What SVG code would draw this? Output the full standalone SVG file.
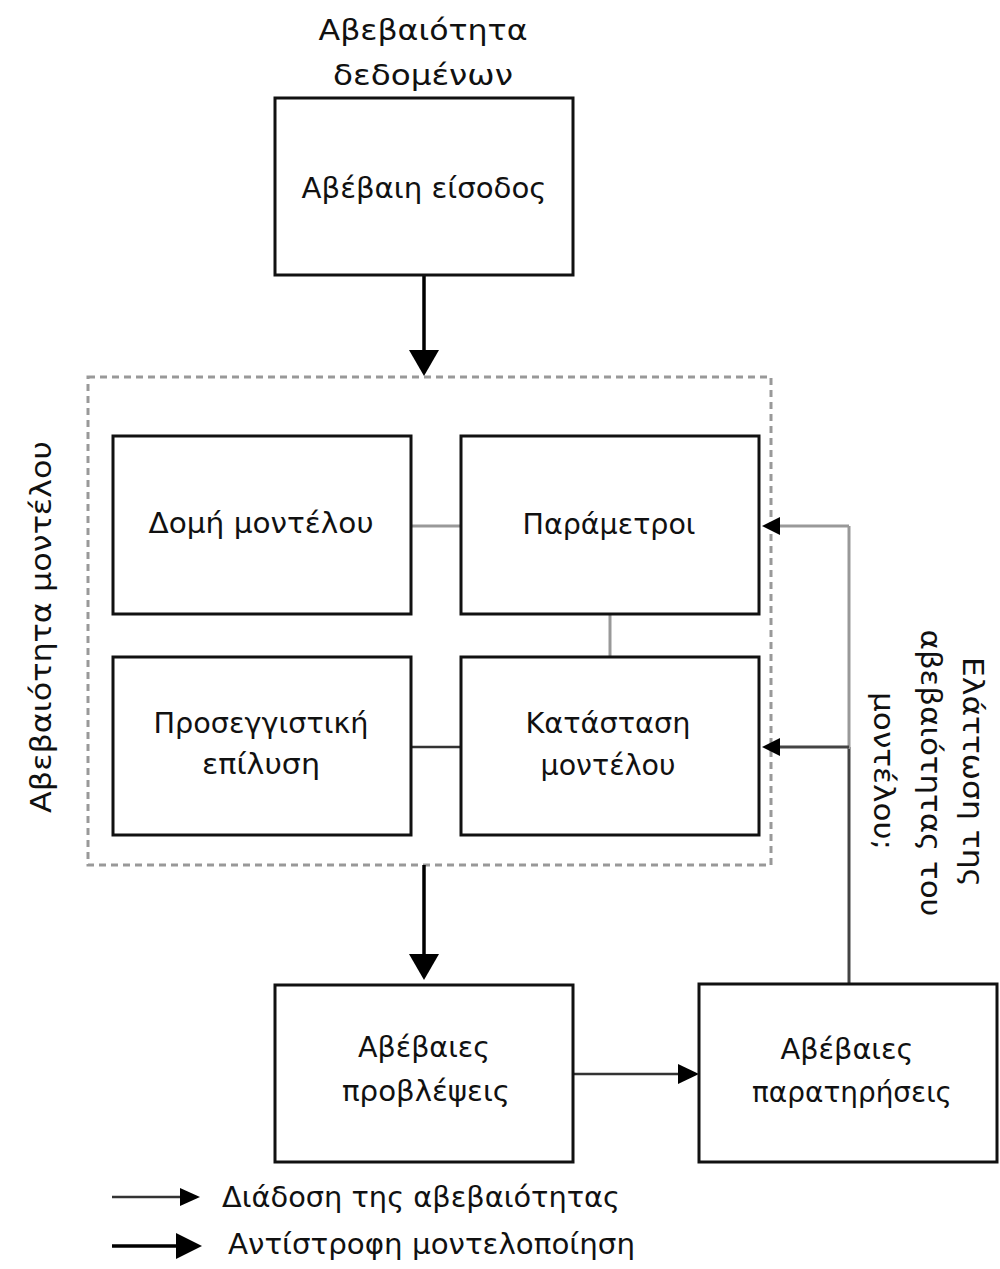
<svg xmlns="http://www.w3.org/2000/svg" width="1000" height="1269" viewBox="0 0 1000 1269">
<defs>
<style>
.box{fill:#fff;stroke:#111;stroke-width:3}
.t{font-family:"DejaVu Sans","Liberation Sans",sans-serif;font-size:29px;fill:#111;text-anchor:middle}
.lt{font-family:"DejaVu Sans","Liberation Sans",sans-serif;font-size:29px;fill:#111}
.thick{stroke:#000;stroke-width:3.5;fill:none}
.thin{stroke:#333;stroke-width:2.5;fill:none}
.grey{stroke:#999;stroke-width:3;fill:none}
.dark{stroke:#444;stroke-width:3;fill:none}
.head{fill:#000}
</style>
</defs>
<rect width="1000" height="1269" fill="#fff"/>

<g id="label-data">
<text class="t" x="423" y="40" font-size="31" textLength="209" lengthAdjust="spacingAndGlyphs">Αβεβαιότητα</text>
<text class="t" x="423" y="85" font-size="31" textLength="180" lengthAdjust="spacingAndGlyphs">δεδομένων</text>
</g>

<g id="model-group">
<rect x="88" y="377" width="683" height="488" fill="none" stroke="#999" stroke-width="3" stroke-dasharray="7,5"/>
<text class="t" transform="translate(51,627) rotate(-90)" font-size="31" textLength="372" lengthAdjust="spacingAndGlyphs">Αβεβαιότητα μοντέλου</text>
</g>

<g id="feedback-label">
<text class="t" transform="translate(963,772) rotate(90)" textLength="230" lengthAdjust="spacingAndGlyphs">Ελάττωση της</text>
<text class="t" transform="translate(921,773) rotate(90)" textLength="287" lengthAdjust="spacingAndGlyphs">αβεβαιότητας του</text>
<text class="t" transform="translate(874,771) rotate(90)" textLength="158" lengthAdjust="spacingAndGlyphs">μοντέλου;</text>
</g>

<g id="connectors">
<line class="thick" x1="424" y1="275" x2="424" y2="352"/>
<polygon class="head" points="409,350 439,350 424,376"/>
<line class="thick" x1="424" y1="865" x2="424" y2="956"/>
<polygon class="head" points="409,954 439,954 424,980"/>
<line class="grey" x1="411" y1="526" x2="461" y2="526"/>
<line class="grey" x1="610" y1="614" x2="610" y2="657"/>
<line class="thin" x1="411" y1="747" x2="461" y2="747"/>
<line class="thin" x1="573" y1="1074" x2="682" y2="1074"/>
<polygon class="head" points="678,1064 678,1084 699,1074"/>
<line class="dark" x1="849" y1="984" x2="849" y2="747"/>
<line class="grey" x1="849" y1="749" x2="849" y2="526"/>
<line class="grey" x1="849" y1="526" x2="776" y2="526"/>
<line class="dark" x1="849" y1="747" x2="776" y2="747"/>
<polygon class="head" points="780,517 780,535 762,526"/>
<polygon class="head" points="780,738 780,756 762,747"/>
</g>

<g id="node-input">
<rect class="box" x="275" y="98" width="298" height="177"/>
<text class="t" x="424" y="198" textLength="245" lengthAdjust="spacingAndGlyphs">Αβέβαιη είσοδος</text>
</g>

<g id="node-structure">
<rect class="box" x="113" y="436" width="298" height="178"/>
<text class="t" x="261" y="533" textLength="225" lengthAdjust="spacingAndGlyphs">Δομή μοντέλου</text>
</g>

<g id="node-parameters">
<rect class="box" x="461" y="436" width="298" height="178"/>
<text class="t" x="609" y="534" textLength="173" lengthAdjust="spacingAndGlyphs">Παράμετροι</text>
</g>

<g id="node-solution">
<rect class="box" x="113" y="657" width="298" height="178"/>
<text class="t" x="261" y="733" textLength="215" lengthAdjust="spacingAndGlyphs">Προσεγγιστική</text>
<text class="t" x="261" y="774" textLength="118" lengthAdjust="spacingAndGlyphs">επίλυση</text>
</g>

<g id="node-state">
<rect class="box" x="461" y="657" width="298" height="178"/>
<text class="t" x="608" y="733" textLength="165" lengthAdjust="spacingAndGlyphs">Κατάσταση</text>
<text class="t" x="608" y="775" textLength="135" lengthAdjust="spacingAndGlyphs">μοντέλου</text>
</g>

<g id="node-predictions">
<rect class="box" x="275" y="985" width="298" height="177"/>
<text class="t" x="424" y="1057" textLength="132" lengthAdjust="spacingAndGlyphs">Αβέβαιες</text>
<text class="t" x="426" y="1101" textLength="168" lengthAdjust="spacingAndGlyphs">προβλέψεις</text>
</g>

<g id="node-observations">
<rect class="box" x="699" y="984" width="298" height="178"/>
<text class="t" x="847" y="1059" textLength="133" lengthAdjust="spacingAndGlyphs">Αβέβαιες</text>
<text class="t" x="852" y="1102" textLength="200" lengthAdjust="spacingAndGlyphs">παρατηρήσεις</text>
</g>

<g id="legend">
<line class="thin" x1="112" y1="1197" x2="184" y2="1197"/>
<polygon class="head" points="180,1188 180,1206 200,1197"/>
<text class="lt" x="222" y="1207" textLength="398" lengthAdjust="spacingAndGlyphs">Διάδοση της αβεβαιότητας</text>
<line class="thick" x1="112" y1="1246" x2="180" y2="1246"/>
<polygon class="head" points="176,1233 176,1259 202,1246"/>
<text class="lt" x="228" y="1254" textLength="407" lengthAdjust="spacingAndGlyphs">Αντίστροφη μοντελοποίηση</text>
</g>
</svg>
